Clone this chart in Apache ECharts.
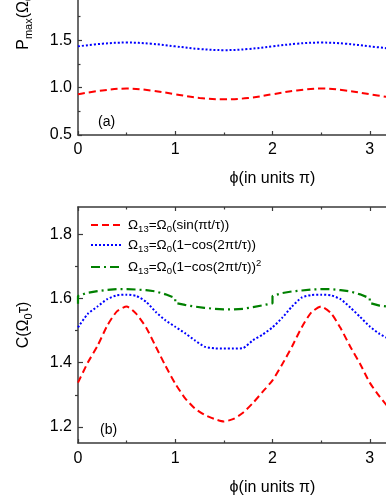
<!DOCTYPE html>
<html>
<head>
<meta charset="utf-8">
<script src="https://cdn.jsdelivr.net/npm/echarts@6/dist/echarts.min.js"></script>
<style>
  html, body { margin: 0; padding: 0; background: #fff; }
  #chart { width: 386px; height: 500px; }
</style>
</head>
<body>
<div id="chart"></div>
<script>
/* ---------------- data ---------------- */
// panel (a): P_max vs phi
const phiTop = [0, 0.25, 0.5, 0.75, 1, 1.25, 1.5, 1.75, 2, 2.25, 2.5, 2.75, 3, 3.25];
const pmaxSin = [0.93, 0.97, 0.99, 0.97, 0.93, 0.89, 0.877, 0.89, 0.93, 0.97, 0.99, 0.97, 0.93, 0.89];
const pmaxCos = [1.435, 1.463, 1.475, 1.463, 1.435, 1.407, 1.395, 1.407, 1.435, 1.463, 1.475, 1.463, 1.435, 1.407];

// panel (b): C vs phi
const phiBot = [0, 0.1, 0.2, 0.3, 0.4, 0.5, 0.6, 0.7, 0.8, 0.9, 1.0, 1.1, 1.2, 1.3, 1.4, 1.5, 1.6,
  1.7, 1.8, 1.9, 2.0, 2.1, 2.2, 2.3, 2.4, 2.5, 2.6, 2.7, 2.8, 2.9, 3.0, 3.1, 3.2, 3.3];
const cSin = [1.338, 1.40, 1.452, 1.515, 1.56, 1.575, 1.552, 1.51, 1.45, 1.39, 1.335, 1.29, 1.258,
  1.238, 1.225, 1.217, 1.225, 1.245, 1.275, 1.31, 1.345, 1.395, 1.45, 1.51, 1.557, 1.575, 1.555,
  1.508, 1.45, 1.397, 1.338, 1.295, 1.258, 1.22];
const cCos = [1.51, 1.552, 1.575, 1.598, 1.61, 1.612, 1.608, 1.59, 1.558, 1.532, 1.512, 1.492, 1.47,
  1.45, 1.445, 1.444, 1.444, 1.446, 1.47, 1.488, 1.51, 1.54, 1.575, 1.603, 1.611, 1.612, 1.61,
  1.598, 1.572, 1.543, 1.513, 1.49, 1.474, 1.46];
// the squared pulse curve jumps at integer phi, so its x values repeat there
const phiCos2 = [0, 0, 0.1, 0.2, 0.3, 0.4, 0.5, 0.6, 0.7, 0.8, 0.9, 1.0, 1.0, 1.1, 1.2, 1.3, 1.4, 1.5,
  1.6, 1.7, 1.8, 1.9, 2.0, 2.0, 2.1, 2.2, 2.3, 2.4, 2.5, 2.6, 2.7, 2.8, 2.9, 3.0, 3.0, 3.1, 3.2, 3.3];
const cCos2 = [1.584, 1.608, 1.618, 1.623, 1.627, 1.629, 1.629, 1.628, 1.626, 1.622, 1.613, 1.601,
  1.586, 1.58, 1.575, 1.571, 1.568, 1.566, 1.566, 1.568, 1.573, 1.579, 1.585, 1.608, 1.617, 1.622,
  1.625, 1.628, 1.629, 1.629, 1.626, 1.622, 1.613, 1.601, 1.586, 1.578, 1.574, 1.57];

const names = ['Ω13=Ω0(sin(πt/τ))', 'Ω13=Ω0(1−cos(2πt/τ))', 'Ω13=Ω0(1−cos(2πt/τ))2'];
const legendRich = [
  '{n|Ω}{s|13}{n|=Ω}{s|0}{n|(sin(πt/τ))}',
  '{n|Ω}{s|13}{n|=Ω}{s|0}{n|(1−cos(2πt/τ))}',
  '{n|Ω}{s|13}{n|=Ω}{s|0}{n|(1−cos(2πt/τ))}{p|2}'
];
const yMajorB = [1.2, 1.4, 1.6, 1.8];
const yMinorB = [1.3, 1.5, 1.7];

/* ---------------- chart ---------------- */
const chart = echarts.init(document.getElementById('chart'));
const FONT = 'Liberation Sans, Arial, sans-serif';
const AX = '#3a3a3a';
const zip = (xs, ys) => xs.map((x, i) => [x, ys[i]]);

const richName = {
  n: { fontSize: 16, fontFamily: FONT, color: '#000', lineHeight: 20 },
  s: { fontSize: 11, fontFamily: FONT, color: '#000', lineHeight: 11, verticalAlign: 'bottom' }
};

function xAxisCfg(gridIndex, extra) {
  return Object.assign({
    type: 'value', gridIndex: gridIndex, min: 0, max: 4, interval: 1,
    axisLine: { onZero: false, lineStyle: { color: AX, width: 1.5 } },
    axisTick: { inside: true, length: 4, lineStyle: { color: AX, width: 1.2 } },
    minorTick: { show: true, splitNumber: 2, length: 2.5, lineStyle: { color: AX, width: 1.2 } },
    axisLabel: { fontSize: 16, fontFamily: FONT, color: '#000', margin: 7 },
    splitLine: { show: false },
    name: 'ϕ(in units π)', nameLocation: 'middle', nameGap: 36,
    nameTextStyle: { fontSize: 16, fontFamily: FONT, color: '#000' }
  }, extra || {});
}

const lineRed = { color: '#ff0000', width: 2, type: [7, 4] };
const lineBlue = { color: '#0000ff', width: 2, type: [2, 2] };
const lineGreen = { color: '#008000', width: 2.2, type: [9, 4, 2, 4] };

const panelTag = { fontSize: 14, fontWeight: 'normal', fontFamily: FONT, color: '#000' };

chart.setOption({
  animation: false,
  backgroundColor: '#fff',
  title: [
    { text: '(a)', left: 98, top: 115, padding: 0, textStyle: panelTag },
    { text: '(b)', left: 100, top: 423, padding: 0, textStyle: panelTag }
  ],
  grid: [
    { left: 78, right: -81, top: -102, bottom: 365, outerBoundsMode: 'none', containLabel: false },
    { left: 78, right: -81, top: 207, bottom: 57, outerBoundsMode: 'none', containLabel: false }
  ],
  legend: {
    data: names,
    orient: 'vertical', left: 90, top: 218, padding: 0,
    itemWidth: 32, itemHeight: 4, itemGap: 4,
    itemStyle: { opacity: 0 },
    formatter: function (name) { return legendRich[names.indexOf(name)]; },
    textStyle: {
      color: '#000', fontFamily: FONT, fontSize: 13.5,
      rich: {
        n: { fontSize: 13.5, fontFamily: FONT, color: '#000', lineHeight: 18 },
        s: { fontSize: 9.5, fontFamily: FONT, color: '#000', lineHeight: 10, verticalAlign: 'bottom' },
        p: { fontSize: 9.5, fontFamily: FONT, color: '#000', lineHeight: 10, verticalAlign: 'top' }
      }
    }
  },
  xAxis: [
    xAxisCfg(0),
    xAxisCfg(1, { axisLabel: { fontSize: 16, fontFamily: FONT, color: '#000', margin: 8 }, nameGap: 37 }),
    xAxisCfg(1, { position: 'top', name: '', axisLabel: { show: false } })
  ],
  yAxis: [
    {
      type: 'value', gridIndex: 0, min: 0.5, max: 3, interval: 0.5,
      axisLine: { show: true, lineStyle: { color: AX, width: 1.5 } },
      axisTick: { show: true, inside: true, length: 4, lineStyle: { color: AX, width: 1.2 } },
      minorTick: { show: true, splitNumber: 2, length: 2.5, lineStyle: { color: AX, width: 1.2 } },
      axisLabel: { fontSize: 16, fontFamily: FONT, color: '#000', margin: 6, formatter: v => v.toFixed(1) },
      splitLine: { show: false },
      name: 'P{s|max}(Ω{s|0}τ)', nameLocation: 'middle', nameGap: 44,
      nameTextStyle: Object.assign({ rich: richName }, richName.n)
    },
    {
      type: 'value', gridIndex: 1, min: 1.15, max: 1.885,
      axisLine: { show: true, lineStyle: { color: AX, width: 1.5 } },
      axisTick: { show: true, inside: true, length: 5, customValues: yMajorB, lineStyle: { color: AX, width: 1.2 } },
      axisLabel: { fontSize: 16, fontFamily: FONT, color: '#000', margin: 6, customValues: yMajorB, formatter: v => v.toFixed(1) },
      splitLine: { show: false },
      name: 'C(Ω{s|0}τ)', nameLocation: 'middle', nameGap: 44,
      nameTextStyle: Object.assign({ rich: richName }, richName.n)
    },
    {
      type: 'value', gridIndex: 1, min: 1.15, max: 1.885,
      axisLine: { show: false },
      axisTick: { show: true, inside: true, length: 3, customValues: yMinorB, lineStyle: { color: AX, width: 1.2 } },
      axisLabel: { show: false },
      splitLine: { show: false }
    }
  ],
  series: [
    { name: names[0], type: 'line', xAxisIndex: 0, yAxisIndex: 0, data: zip(phiTop, pmaxSin), smooth: 0.4, symbol: 'none', lineStyle: lineRed, itemStyle: { color: '#ff0000' } },
    { name: names[1], type: 'line', xAxisIndex: 0, yAxisIndex: 0, data: zip(phiTop, pmaxCos), smooth: 0.4, symbol: 'none', lineStyle: lineBlue, itemStyle: { color: '#0000ff' } },
    { name: names[0], type: 'line', xAxisIndex: 1, yAxisIndex: 1, data: zip(phiBot, cSin), smooth: 0.2, symbol: 'none', lineStyle: lineRed, itemStyle: { color: '#ff0000' } },
    { name: names[1], type: 'line', xAxisIndex: 1, yAxisIndex: 1, data: zip(phiBot, cCos), smooth: 0.2, symbol: 'none', lineStyle: lineBlue, itemStyle: { color: '#0000ff' } },
    { name: names[2], type: 'line', xAxisIndex: 1, yAxisIndex: 1, data: zip(phiCos2, cCos2), smooth: false, symbol: 'none', lineStyle: lineGreen, itemStyle: { color: '#008000' } }
  ]
});
window.onresize = function () { chart.resize(); };
</script>
</body>
</html>
